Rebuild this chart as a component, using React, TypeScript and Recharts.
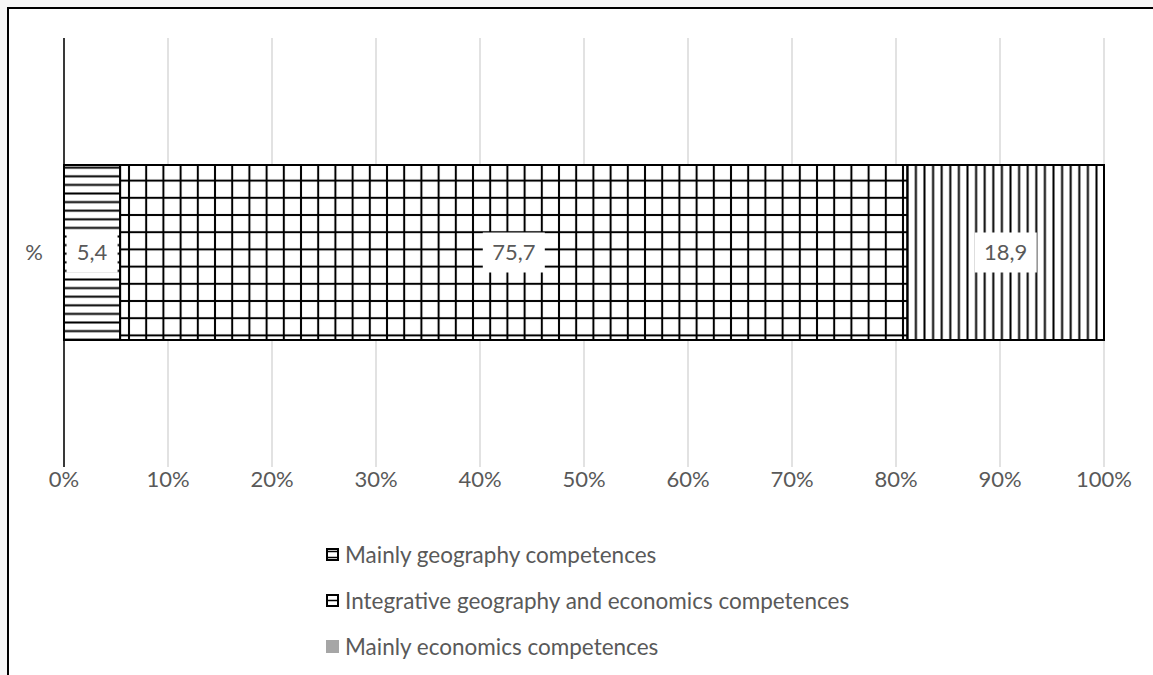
import React from 'react';
import { BarChart, Bar, XAxis, YAxis, CartesianGrid, LabelList } from 'recharts';

const categories = ['%'];
const geographyValues = [5.4];
const integrativeValues = [75.7];
const economicsValues = [18.9];
const xTicks = [0, 10, 20, 30, 40, 50, 60, 70, 80, 90, 100];

const series = [
  { key: 'geography', name: 'Mainly geography competences', fill: 'url(#hatchH)' },
  { key: 'integrative', name: 'Integrative geography and economics competences', fill: 'url(#hatchGrid)' },
  { key: 'economics', name: 'Mainly economics competences', fill: 'url(#hatchV)' },
];

const data = categories.map((name, i) => ({
  name,
  geography: geographyValues[i],
  integrative: integrativeValues[i],
  economics: economicsValues[i],
}));

const FONT = 'Lato, "Open Sans", sans-serif';
const TEXT = '#595959';

// white box with the value in it, like the excel data labels
const ValueLabel = (props: any) => {
  const { x, y, width, height, value } = props;
  const txt = String(value).replace('.', ',');
  const w = txt.length * 11 + 18;
  const h = 40;
  const cx = x + width / 2;
  const cy = y + height / 2;
  return (
    <g>
      <rect x={cx - w / 2} y={cy - h / 2} width={w} height={h} fill="#fff" />
      <text x={cx} y={cy} dy="0.36em" textAnchor="middle" fill={TEXT} fontSize={22} fontFamily={FONT}>
        {txt}
      </text>
    </g>
  );
};

const LegendIcon = ({ idx }: { idx: number }) => {
  if (idx === 2) {
    return (
      <svg width={13} height={13} style={{ display: 'block' }}>
        <rect x={0} y={0} width={13} height={13} fill="#a6a6a6" />
      </svg>
    );
  }
  return (
    <svg width={13} height={13} style={{ display: 'block' }}>
      <rect x={1} y={1} width={11} height={11} fill="#fff" stroke="#000" strokeWidth={2} />
      {idx === 0 ? (
        <>
          <line x1={1} y1={3.5} x2={12} y2={3.5} stroke="#000" strokeWidth={1.5} />
          <line x1={1} y1={9.5} x2={12} y2={9.5} stroke="#000" strokeWidth={1.5} />
        </>
      ) : (
        <line x1={1} y1={6.5} x2={12} y2={6.5} stroke="#000" strokeWidth={1.5} />
      )}
    </svg>
  );
};

export default function App() {
  return (
    <div style={{ position: 'fixed', inset: 0, background: '#f7f7f7', overflow: 'hidden' }}>
      <svg width={0} height={0} style={{ position: 'absolute' }}>
        <defs>
          <pattern id="hatchH" patternUnits="userSpaceOnUse" width={8.6} height={8.6}>
            <rect width={8.6} height={8.6} fill="#fff" />
            <line x1={0} y1={4.3} x2={8.6} y2={4.3} stroke="#000" strokeWidth={2} />
          </pattern>
          <pattern id="hatchGrid" patternUnits="userSpaceOnUse" width={17.2} height={17.2}>
            <rect width={17.2} height={17.2} fill="#fff" />
            <line x1={0} y1={8.6} x2={17.2} y2={8.6} stroke="#000" strokeWidth={2} />
            <line x1={8.6} y1={0} x2={8.6} y2={17.2} stroke="#000" strokeWidth={2} />
          </pattern>
          <pattern id="hatchV" patternUnits="userSpaceOnUse" width={8.6} height={8.6}>
            <rect width={8.6} height={8.6} fill="#fff" />
            <line x1={4.3} y1={0} x2={4.3} y2={8.6} stroke="#000" strokeWidth={2} />
          </pattern>
        </defs>
      </svg>
      <div
        style={{
          position: 'absolute',
          left: 7,
          top: 7,
          width: 1200,
          height: 720,
          background: '#fff',
          borderTop: '2px solid #000',
          borderLeft: '2px solid #000',
        }}
      />
      <div style={{ position: 'absolute', left: 0, top: 0 }}>
        <BarChart
          width={1153}
          height={500}
          data={data}
          layout="vertical"
          margin={{ top: 38, right: 49, bottom: 3, left: 14 }}
          barSize={175}
        >
          <CartesianGrid horizontal={false} stroke="#d9d9d9" strokeWidth={1.5} />
          <XAxis
            type="number"
            domain={[0, 100]}
            ticks={xTicks}
            tickFormatter={(v: number) => `${v}%`}
            axisLine={false}
            tickLine={false}
            tickSize={0}
            tickMargin={4}
            height={30}
            interval={0}
            tick={{ fill: TEXT, fontSize: 22, fontFamily: FONT }}
          />
          <YAxis
            type="category"
            dataKey="name"
            width={50}
            axisLine={{ stroke: '#000', strokeWidth: 1.5 }}
            tickLine={false}
            tickSize={0}
            tickMargin={21}
            tick={{ fill: TEXT, fontSize: 22, fontFamily: FONT }}
          />
          {series.map((s) => (
            <Bar
              key={s.key}
              dataKey={s.key}
              name={s.name}
              stackId="a"
              fill={s.fill}
              stroke="#000"
              strokeWidth={2}
              isAnimationActive={false}
            >
              <LabelList dataKey={s.key} content={ValueLabel} />
            </Bar>
          ))}
        </BarChart>
      </div>
      <div style={{ position: 'absolute', left: 326, top: 531, fontFamily: FONT, fontSize: 22.5, color: TEXT }}>
        {series.map((s, i) => (
          <div key={s.key} style={{ display: 'flex', alignItems: 'center', height: 46, gap: 6 }}>
            <LegendIcon idx={i} />
            <span>{s.name}</span>
          </div>
        ))}
      </div>
    </div>
  );
}
